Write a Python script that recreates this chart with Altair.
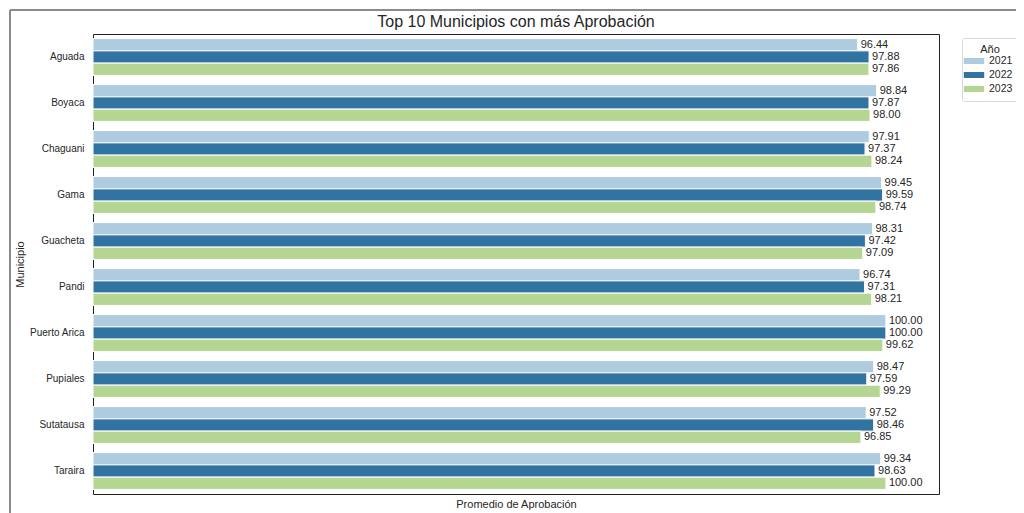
import altair as alt
import pandas as pd

municipios = ["Aguada", "Boyaca", "Chaguani", "Gama", "Guacheta", "Pandi",
              "Puerto Arica", "Pupiales", "Sutatausa", "Taraira"]
anios = ["2021", "2022", "2023"]
v2021 = [96.44, 98.84, 97.91, 99.45, 98.31, 96.74, 100.00, 98.47, 97.52, 99.34]
v2022 = [97.88, 97.87, 97.37, 99.59, 97.42, 97.31, 100.00, 97.59, 98.46, 98.63]
v2023 = [97.86, 98.00, 98.24, 98.74, 97.09, 98.21, 99.62, 99.29, 96.85, 100.00]
colores = ["#aecbdf", "#3274a1", "#b5d592"]

rows = []
for serie, anio in zip([v2021, v2022, v2023], anios):
    for m, v in zip(municipios, serie):
        rows.append({"Municipio": m, "Año": anio, "Valor": v})
df = pd.DataFrame(rows)

FONT = "Liberation Sans"

y_enc = alt.Y("Municipio:N", sort=municipios,
              scale=alt.Scale(paddingInner=0.2, paddingOuter=0.1),
              axis=alt.Axis(title="Municipio", ticks=False, domain=False,
                            labelPadding=9, labelFontSize=10, labelColor="#262626",
                            titleFontSize=11, titleFontWeight="normal", titleColor="#262626",
                            titlePadding=3, labelFont=FONT, titleFont=FONT))
x_enc = alt.X("Valor:Q", scale=alt.Scale(domain=[0, 106.7], nice=False, zero=True),
              axis=alt.Axis(title="Promedio de Aprobación", labels=False, ticks=False,
                            domain=False, grid=False, titleFontSize=11,
                            titleFontWeight="normal", titleColor="#262626",
                            titlePadding=4, titleFont=FONT))
yoff = alt.YOffset("Año:N", sort=anios, scale=alt.Scale(paddingInner=0.0))
color = alt.Color("Año:N", sort=anios, scale=alt.Scale(domain=anios, range=colores),
                  legend=alt.Legend(title="Año", orient="none", legendX=869, legendY=4,
                                    strokeColor="#d9d9d9", padding=6, cornerRadius=2,
                                    fillColor="white", titleFontSize=11,
                                    titleFontWeight="normal", labelFontSize=10.5,
                                    titleFont=FONT, labelFont=FONT, titleAnchor="middle",
                                    titleColor="#262626", labelColor="#262626",
                                    symbolType="M-1.7,-0.5H1.7V0.5H-1.7Z", symbolSize=144,
                                    symbolStrokeWidth=0, rowPadding=2, labelOffset=9,
                                    titlePadding=0))

bars = alt.Chart(df).mark_bar(stroke="white", strokeWidth=1).encode(
    y=y_enc, x=x_enc, yOffset=yoff, color=color)

texts = alt.Chart(df).mark_text(align="left", baseline="middle", dx=3, fontSize=11,
                                font=FONT, color="#262626").encode(
    y=alt.Y("Municipio:N", sort=municipios), x="Valor:Q",
    yOffset=yoff, text=alt.Text("Valor:Q", format=".2f"))

frame_v = alt.Chart(df).mark_rule(color="#8a8a8a", strokeWidth=2).encode(
    x=alt.value(-83), y=alt.value(-24), y2=alt.value(600))
frame_h = alt.Chart(df).mark_rule(color="#8a8a8a", strokeWidth=2).encode(
    x=alt.value(-83), x2=alt.value(1000), y=alt.value(-24))

chart = alt.layer(frame_v, frame_h, bars, texts).properties(
    width=846, height=460,
    background="white",
    title=alt.TitleParams("Top 10 Municipios con más Aprobación", fontSize=16,
                          fontWeight="normal", font=FONT, color="#262626",
                          anchor="middle", offset=-21, frame="group"),
    autosize=alt.AutoSizeParams(type="none"),
    padding={"left": 85, "top": 26, "right": 77, "bottom": 19},
).configure_view(stroke="#222222", strokeWidth=1)

chart.save("out.html", embed_options={"renderer": "svg", "actions": False})
